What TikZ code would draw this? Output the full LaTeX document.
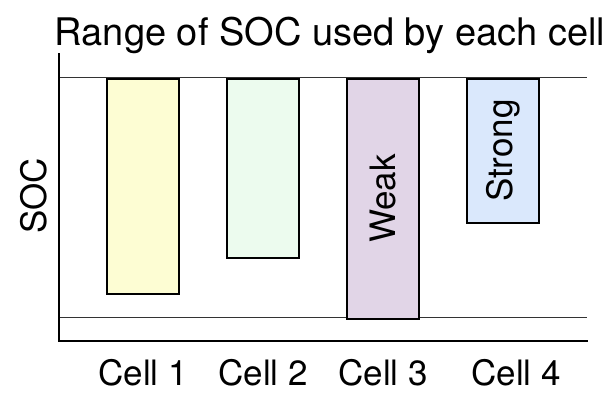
\documentclass[tikz,border=0pt]{standalone}
\usepackage{fontspec}
\setmainfont{TeX Gyre Heros}
\definecolor{yel}{HTML}{FDFDD3}
\definecolor{grn}{HTML}{ECFBEE}
\definecolor{pur}{HTML}{E1D5E7}
\definecolor{blu}{HTML}{DAE8FC}
\tikzset{
  bar/.style={draw=black,line width=2pt,minimum width=72pt,inner sep=0pt,anchor=north},
  lbl/.style={font=\fontsize{35}{38}\selectfont,anchor=base,inner sep=0pt},
  thinline/.style={draw=black!80,line width=1.2pt}
}
\begin{document}
\begin{tikzpicture}[x=1pt,y=1pt,line join=miter]
	\useasboundingbox (0,0) rectangle (608,392);
	\def\ytop{314.5} \def\ylow{74.3}
	% reference lines
	\coordinate (tl) at (59,\ytop); \coordinate (tr) at (587,\ytop);
	\coordinate (ll) at (59,\ylow); \coordinate (lr) at (587,\ylow);
	\draw[thinline] (tl)--(tr) (ll)--(lr);
	% bars
	\foreach \n/\x/\yb/\c in {1/143/98.7/yel,2/263/134.7/grn,3/383/74.3/pur,4/503/170.3/blu}
		\node[bar,fill=\c,minimum height={\ytop-\yb}] (c\n) at (\x,\ytop) {};
	\node[lbl,rotate=90,anchor=center] (weak) at (c3.center) {Weak};
	\node[lbl,rotate=90,anchor=center] (strong) at (c4.center) {Strong};
	% axes
	\coordinate (o) at (59,51); \coordinate (yend) at (59,338); \coordinate (xend) at (587,51);
	\draw[line width=2pt,line cap=rect] (yend)--(o)--(xend);
	\node[lbl,rotate=90,anchor=center] (soc) at (33.5,196) {SOC};
	\node[lbl,font=\fontsize{38}{41}\selectfont] (title) at (330,347) {Range of SOC used by each cell};
	\foreach \n/\x in {1/143,2/263,3/383,4/516}
		\node[lbl] (cl\n) at (\x,6.5) {Cell \n};
\end{tikzpicture}
\end{document}
